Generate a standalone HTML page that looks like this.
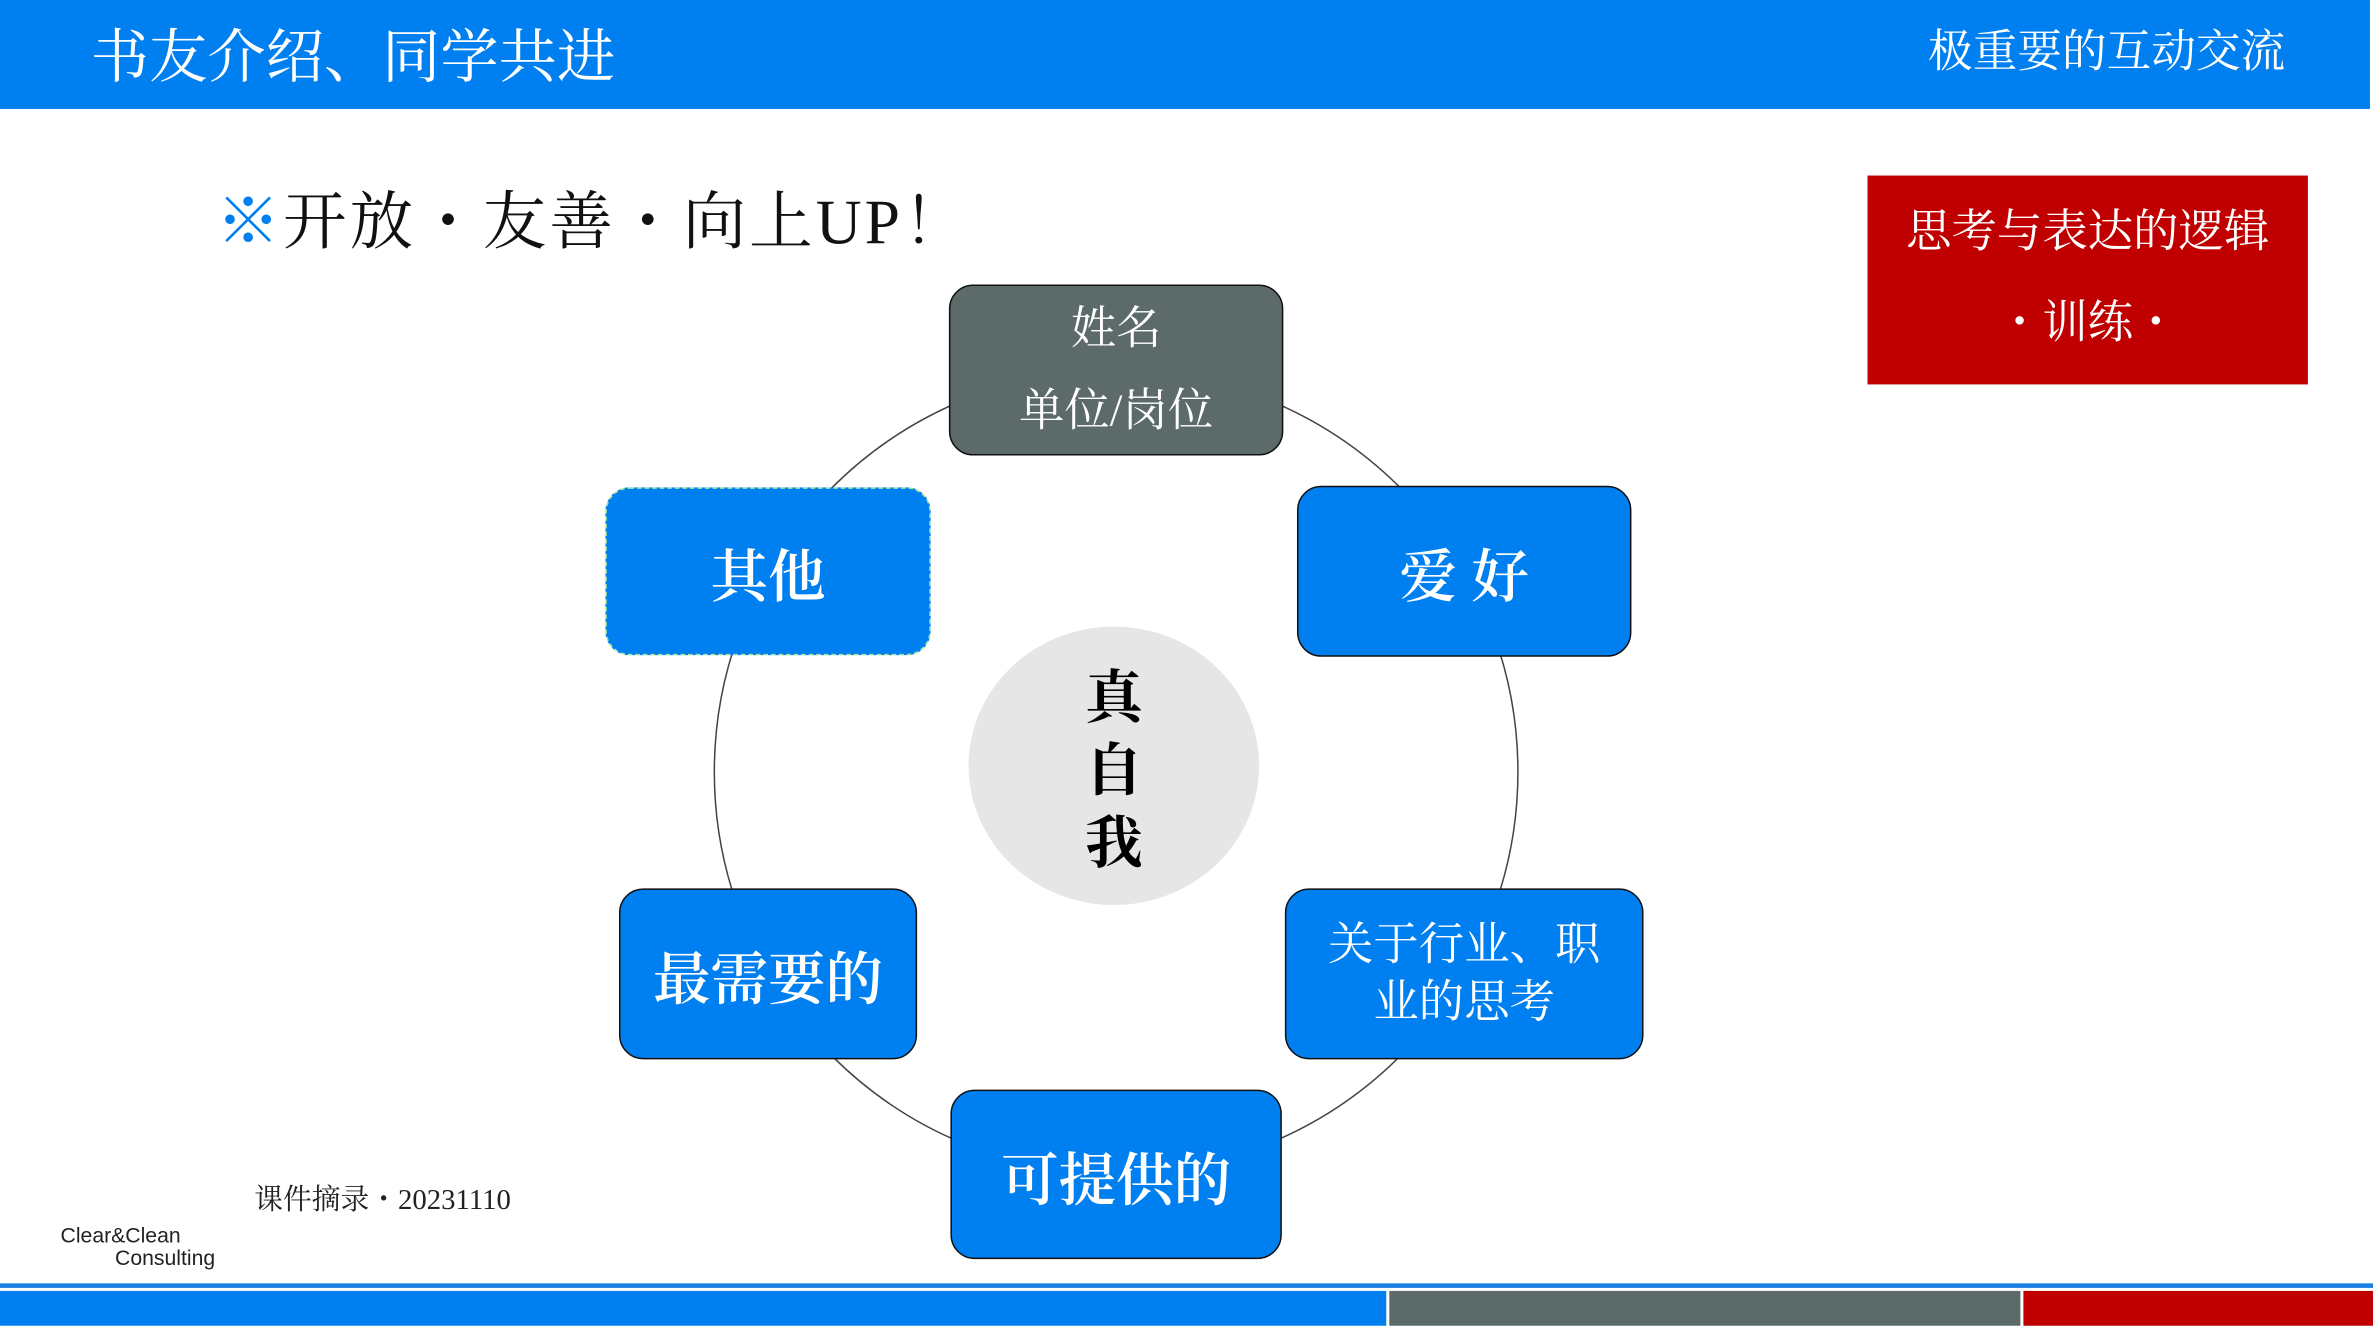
<!DOCTYPE html>
<html><head><meta charset="utf-8"><style>
html,body{margin:0;padding:0;background:#fff;overflow:hidden;width:2373px;height:1325px}
#c{position:absolute;left:0;top:0;width:1568px;height:876px;transform:scale(1.51339);transform-origin:0 0;font-family:"Liberation Serif","Noto Serif CJK SC",serif}
.a{position:absolute}
.box{position:absolute;box-sizing:border-box;border:1.5px solid #111;border-radius:16px;background:#0080f0;color:#fff;display:flex;align-items:center;justify-content:center;text-align:center;font-weight:600}
</style></head><body><div id="c">
<div class="a" style="left:0;top:0;width:1566px;height:72px;background:#0080f0"></div>
<div class="a" style="left:60px;top:15px;color:#fff;font-size:38.5px;line-height:48px">书友介绍、同学共进</div>
<div class="a" style="left:1274px;top:15px;color:#fff;font-size:29.5px;line-height:40px">极重要的互动交流</div>
<div class="a" style="left:143px;top:120px;font-size:42px;line-height:56px;color:#111;letter-spacing:2px"><span style="color:#0080f0">※</span>开放・友善・向上UP！</div>
<div class="a" style="left:1234px;top:116px;width:291px;height:138px;background:#c00000;color:#fff;text-align:center;font-size:30px">
<div style="margin-top:18px;line-height:40px">思考与表达的逻辑</div><div style="margin-top:20px;line-height:40px">・训练・</div></div>
<svg class="a" style="left:0;top:0" width="1568" height="876"><circle cx="737.5" cy="510" r="265.5" fill="none" stroke="#444" stroke-width="1"/>
<ellipse cx="736" cy="506" rx="96" ry="92" fill="#e6e6e6"/></svg>
<div class="a" style="left:716px;top:438px;font-size:38px;line-height:48px;font-weight:bold;color:#000;width:40px;text-align:center">真<br>自<br>我</div>
<div class="box" style="left:627px;top:188px;width:221px;height:113px;background:#5c6a6a;font-weight:normal;font-size:30px;line-height:54px;flex-direction:column">姓名<br>单位/岗位</div>
<div class="box" style="left:400px;top:322px;width:215px;height:111px;border:1.5px dashed #9fe0a0;font-size:38px">其他</div>
<div class="box" style="left:857px;top:321px;width:221px;height:113px;font-size:38px">爱&nbsp;好</div>
<div class="box" style="left:409px;top:587px;width:197px;height:113px;font-size:38px">最需要的</div>
<div class="box" style="left:849px;top:587px;width:237px;height:113px;font-size:30px;line-height:38px;font-weight:normal">关于行业、职<br>业的思考</div>
<div class="box" style="left:628px;top:720px;width:219px;height:112px;font-size:38px">可提供的</div>
<div class="a" style="left:168px;top:778px;font-size:19px;color:#222">课件摘录・20231110</div>
<div class="a" style="left:40px;top:809px;font-size:14px;line-height:15px;color:#222;font-family:'Liberation Sans',sans-serif">Clear&amp;Clean<br><span style="margin-left:36px">Consulting</span></div>
<div class="a" style="left:0;top:848px;width:1568px;height:3px;background:#1a7fe0"></div>
<div class="a" style="left:0;top:853px;width:916px;height:23px;background:#0080f0"></div>
<div class="a" style="left:918px;top:853px;width:417px;height:23px;background:#5c6a6a"></div>
<div class="a" style="left:1337px;top:853px;width:231px;height:23px;background:#c00000"></div>
</div></body></html>
